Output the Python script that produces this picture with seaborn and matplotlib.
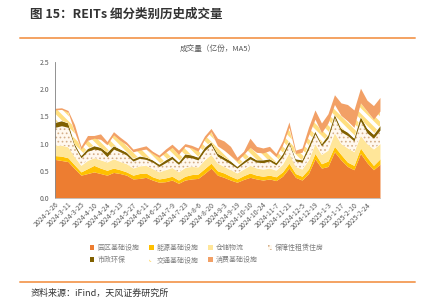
import numpy as np
import seaborn as sns
import matplotlib.pyplot as plt

# tick labels (every second point)
dates = ["2024-2-26", "2024-3-11", "2024-3-25", "2024-4-10", "2024-4-24", "2024-5-13",
         "2024-5-27", "2024-6-11", "2024-6-25", "2024-7-9", "2024-7-23", "2024-8-6",
         "2024-8-20", "2024-9-3", "2024-9-19", "2024-10-10", "2024-10-24", "2024-11-7",
         "2024-11-21", "2024-12-5", "2024-12-19", "2025-1-3", "2025-1-17", "2025-2-10",
         "2025-2-24"]

labels = ["园区基础设施", "能源基础设施", "仓储物流", "保障性租赁住房",
          "市政环保", "交通基础设施", "消费基础设施"]

# volumes per category (亿份, MA5), roughly one point per week
park = [0.71, 0.69, 0.67, 0.54, 0.42, 0.45, 0.48, 0.45, 0.42, 0.47, 0.45, 0.42, 0.35,
        0.36, 0.38, 0.33, 0.29, 0.30, 0.33, 0.27, 0.33, 0.35, 0.36, 0.45, 0.55, 0.42,
        0.38, 0.33, 0.29, 0.34, 0.38, 0.35, 0.33, 0.35, 0.32, 0.40, 0.55, 0.38, 0.33,
        0.45, 0.72, 0.55, 0.58, 0.85, 0.70, 0.58, 0.52, 0.82, 0.65, 0.52, 0.62]
energy = [0.07, 0.08, 0.07, 0.07, 0.06, 0.09, 0.12, 0.10, 0.09, 0.08, 0.07, 0.06, 0.07,
          0.09, 0.08, 0.06, 0.06, 0.07, 0.07, 0.06, 0.07, 0.08, 0.08, 0.09, 0.09, 0.08,
          0.08, 0.07, 0.06, 0.07, 0.08, 0.07, 0.07, 0.07, 0.07, 0.08, 0.09, 0.07, 0.07,
          0.08, 0.10, 0.08, 0.10, 0.10, 0.10, 0.08, 0.08, 0.10, 0.10, 0.08, 0.10]
storage = [0.19, 0.20, 0.20, 0.15, 0.12, 0.15, 0.14, 0.15, 0.15, 0.17, 0.15, 0.15, 0.13,
           0.14, 0.14, 0.15, 0.13, 0.15, 0.16, 0.15, 0.16, 0.15, 0.13, 0.16, 0.16, 0.14,
           0.12, 0.12, 0.11, 0.12, 0.14, 0.13, 0.13, 0.13, 0.12, 0.14, 0.19, 0.13, 0.13,
           0.17, 0.18, 0.17, 0.20, 0.25, 0.20, 0.26, 0.25, 0.23, 0.25, 0.30, 0.28]
housing = [0.33, 0.36, 0.36, 0.19, 0.14, 0.17, 0.16, 0.18, 0.10, 0.18, 0.18, 0.16, 0.13,
           0.14, 0.11, 0.12, 0.10, 0.13, 0.16, 0.14, 0.19, 0.16, 0.13, 0.17, 0.18, 0.13,
           0.12, 0.11, 0.09, 0.11, 0.12, 0.11, 0.12, 0.13, 0.10, 0.14, 0.17, 0.10, 0.13,
           0.20, 0.18, 0.16, 0.22, 0.28, 0.22, 0.23, 0.20, 0.27, 0.20, 0.20, 0.25]
municipal = [0.09, 0.09, 0.08, 0.05, 0.04, 0.05, 0.06, 0.05, 0.08, 0.06, 0.05, 0.05, 0.04,
             0.04, 0.04, 0.04, 0.04, 0.05, 0.05, 0.04, 0.06, 0.05, 0.05, 0.06, 0.05, 0.05,
             0.05, 0.05, 0.03, 0.04, 0.05, 0.04, 0.05, 0.04, 0.04, 0.05, 0.05, 0.04, 0.04,
             0.06, 0.05, 0.04, 0.06, 0.06, 0.06, 0.06, 0.05, 0.08, 0.08, 0.07, 0.08]
transport = [0.23, 0.21, 0.20, 0.22, 0.12, 0.15, 0.14, 0.15, 0.14, 0.20, 0.16, 0.14, 0.13,
             0.11, 0.15, 0.12, 0.13, 0.14, 0.16, 0.14, 0.14, 0.13, 0.11, 0.15, 0.19, 0.14,
             0.13, 0.10, 0.10, 0.12, 0.16, 0.14, 0.13, 0.15, 0.11, 0.16, 0.25, 0.10, 0.14,
             0.19, 0.22, 0.20, 0.22, 0.18, 0.24, 0.21, 0.20, 0.25, 0.32, 0.28, 0.27]
consumer = [0.03, 0.03, 0.03, 0.13, 0.05, 0.09, 0.05, 0.10, 0.06, 0.06, 0.06, 0.05, 0.05,
            0.05, 0.06, 0.04, 0.04, 0.06, 0.06, 0.08, 0.05, 0.05, 0.06, 0.06, 0.06, 0.14,
            0.17, 0.17, 0.07, 0.06, 0.17, 0.11, 0.09, 0.08, 0.06, 0.08, 0.10, 0.06, 0.08,
            0.15, 0.17, 0.18, 0.17, 0.18, 0.23, 0.30, 0.32, 0.27, 0.20, 0.25, 0.25]

colors = ["#ED7D31", "#FFC000", "#FFE699", "#FFF8EE", "#806000", "#FFFFFF", "#F2A066"]

sns.set_style("white")
plt.rcParams['font.family'] = ['Noto Sans CJK SC', 'DejaVu Sans']
plt.rcParams['hatch.linewidth'] = 0.7

fig = plt.figure(figsize=(4.31, 3.06), dpi=100)
ax = fig.add_axes([0.1276, 0.353, 0.754, 0.444])

x = np.arange(len(park))
series = [park, energy, storage, housing, municipal, transport, consumer]
polys = ax.stackplot(x, *series, colors=colors, labels=labels, linewidth=0)

# dotted fill for housing, yellow stripes for transport
polys[3].set_hatch("....")
polys[3].set_edgecolor("#D4AE88")
polys[3].set_linewidth(0)
polys[5].set_hatch("\\\\\\")
polys[5].set_edgecolor("#FFDF80")
polys[5].set_linewidth(0)
try:
    polys[5].set_hatch_linewidth(3.0)
except AttributeError:
    pass

ax.set_xlim(0, len(park) - 1)
ax.set_ylim(0, 2.5)
ax.set_yticks(np.arange(0, 2.51, 0.5))
ax.set_yticklabels([f"{v:.1f}" for v in np.arange(0, 2.51, 0.5)])
ax.set_xticks(x[::2][:len(dates)])
ax.set_xticklabels(dates, rotation=45, ha="right", rotation_mode="anchor")
ax.tick_params(axis="both", labelsize=5, colors="#595959", length=2, width=0.6, pad=2)
ax.tick_params(axis="x", length=0)
for side in ["top", "right"]:
    ax.spines[side].set_visible(False)
ax.spines["left"].set_color("#808080")
ax.spines["left"].set_linewidth(0.6)
ax.spines["bottom"].set_color("#BFBFBF")
ax.spines["bottom"].set_linewidth(0.6)

ax.set_title("成交量（亿份，MA5）", fontsize=5.5, color="#595959", pad=8)

# legend, row-wise order for 4 columns
order = [0, 4, 1, 5, 2, 6, 3]
handles, labs = ax.get_legend_handles_labels()
fig.legend([handles[i] for i in order], [labs[i] for i in order],
           loc="center", bbox_to_anchor=(0.48, 0.17), ncol=4, frameon=False,
           fontsize=5, labelcolor="#7F7F7F", handlelength=0.7, handleheight=0.7,
           handletextpad=0.4, columnspacing=1.4, labelspacing=0.6)

# header and footer
fig.text(0.07, 0.952, "图 15：REITs 细分类别历史成交量", fontsize=9, fontweight="bold",
         color="#333333", va="center")
fig.add_artist(plt.Line2D([0.047, 0.963], [0.876, 0.876], color="#F4A261", lw=1.4))
fig.add_artist(plt.Line2D([0.047, 0.963], [0.078, 0.078], color="#F4A261", lw=1.4))
fig.text(0.07, 0.042, "资料来源：iFind，天风证券研究所", fontsize=6.5, color="#333333",
         va="center")

fig.savefig("out.png", dpi=100)
plt.close(fig)
